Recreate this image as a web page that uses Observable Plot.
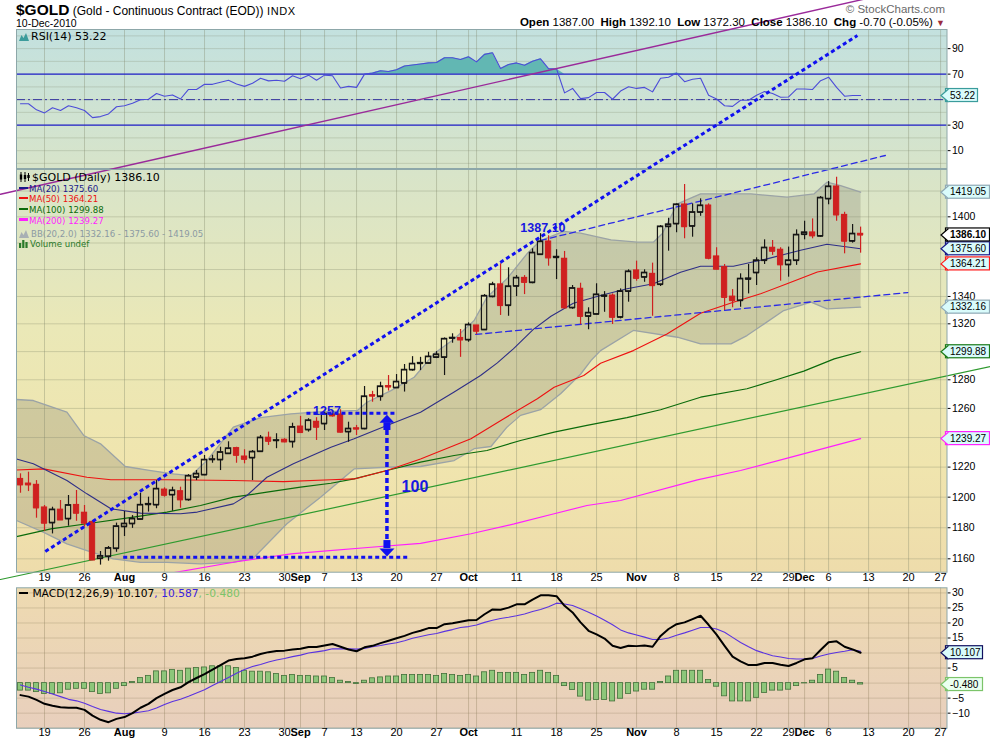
<!DOCTYPE html>
<html><head><meta charset="utf-8">
<script src="https://cdn.jsdelivr.net/npm/d3@7"></script>
<script src="https://cdn.jsdelivr.net/npm/@observablehq/plot@0.6"></script>
<style>
body{margin:0;background:#fff;}
#wrap{position:relative;width:990px;height:744px;overflow:hidden;background:#fff;font-family:"Liberation Sans",Arial,sans-serif;}
#wrap svg.plotsvg{position:absolute;left:0;top:0;}
.t{position:absolute;white-space:nowrap;line-height:1;z-index:5;}
.lg{font-family:"DejaVu Sans",Verdana,sans-serif;}
</style></head><body><div id="wrap"></div>
<script>
// ---------- DATA ----------
// trading-day index 0 = 14-Jul-2010 ... 105 = 10-Dec-2010
const open = [1212.1,1209.0,1208.2,1193.2,1183.2,1191.8,1185.8,1194.9,1189.8,1183.8,
1160.2,1161.5,1166.6,1180.7,1182.6,1185.5,1195.1,1194.9,1205.0,1201.5,
1203.9,1198.3,1213.2,1214.8,1225.0,1224.9,1229.1,1232.8,1227.1,1226.2,
1230.5,1239.9,1237.9,1238.5,1237.1,1247.5,1245.3,1250.8,1249.4,1255.8,
1255.8,1243.9,1246.3,1246.0,1269.2,1268.3,1275.6,1274.4,1277.6,1287.0,
1291.5,1291.7,1295.9,1295.9,1309.6,1309.8,1308.4,1318.8,1315.7,1339.9,
1348.9,1333.4,1347.6,1353.8,1350.3,1371.3,1381.1,1369.0,1368.1,1331.7,
1345.7,1325.5,1327.0,1340.2,1340.7,1324.8,1343.8,1359.3,1354.3,1356.8,
1348.9,1392.5,1394.6,1409.5,1392.8,1403.5,1408.7,1369.8,1361.8,1339.9,
1337.0,1352.8,1357.6,1366.8,1376.4,1374.9,1363.6,1366.8,1386.5,1388.0,
1385.2,1413.9,1423.5,1401.5,1381.4,1387.0];
const high = [1215.5,1216.6,1211.0,1194.5,1193.4,1197.8,1201.1,1204.4,1194.5,1184.7,
1164.7,1167.9,1183.0,1190.6,1187.9,1202.6,1200.0,1211.0,1206.2,1206.6,
1206.6,1215.0,1217.7,1227.8,1228.0,1233.4,1237.1,1233.4,1231.7,1231.2,
1241.4,1243.7,1242.6,1239.2,1249.8,1254.5,1252.9,1253.6,1257.4,1258.6,
1259.1,1250.5,1248.3,1275.3,1271.9,1278.3,1283.0,1283.7,1290.8,1296.4,
1295.9,1299.5,1300.0,1309.8,1312.8,1315.9,1320.7,1318.8,1341.4,1350.5,
1364.3,1361.3,1355.5,1355.5,1375.6,1387.1,1385.5,1374.9,1373.6,1348.1,
1349.8,1331.7,1349.4,1343.6,1341.9,1345.6,1359.8,1366.3,1359.8,1364.8,
1393.3,1398.9,1410.0,1425.1,1410.0,1413.9,1410.0,1376.4,1363.8,1345.1,
1356.8,1363.8,1368.8,1382.4,1381.9,1376.4,1376.9,1390.0,1396.6,1398.4,
1415.7,1427.4,1430.8,1403.5,1394.1,1392.1];
const low = [1202.6,1203.7,1186.2,1177.7,1176.0,1184.7,1181.0,1184.2,1180.4,1158.9,
1156.0,1158.5,1164.2,1174.3,1179.6,1185.1,1190.2,1192.4,1200.0,1190.8,
1192.7,1197.3,1211.0,1214.3,1222.6,1217.7,1228.5,1222.6,1222.2,1211.0,
1230.0,1234.6,1232.4,1236.4,1232.8,1243.0,1243.7,1238.0,1244.8,1254.0,
1243.0,1236.8,1241.4,1245.3,1264.3,1265.0,1272.1,1273.9,1271.4,1286.1,
1286.5,1291.3,1295.0,1283.0,1306.0,1295.9,1306.7,1312.1,1315.2,1339.0,
1326.1,1325.5,1339.9,1341.4,1349.4,1370.6,1362.5,1352.5,1330.9,1330.6,
1319.3,1315.7,1326.6,1328.4,1319.5,1323.6,1335.8,1351.3,1350.5,1325.5,
1347.4,1373.8,1387.8,1383.2,1384.4,1400.4,1367.3,1359.8,1329.7,1331.7,
1332.1,1341.9,1348.1,1363.8,1370.6,1351.3,1354.3,1363.1,1382.4,1383.2,
1384.4,1409.3,1396.6,1371.8,1379.9,1372.3];
const close = [1208.2,1208.2,1193.0,1183.0,1191.8,1185.1,1194.7,1189.5,1183.0,1159.3,
1161.7,1166.8,1180.9,1182.6,1185.8,1194.9,1195.5,1205.5,1201.3,1204.4,
1198.3,1214.1,1215.5,1224.9,1225.2,1230.0,1232.6,1228.0,1225.3,1230.3,
1239.9,1237.5,1238.1,1237.1,1247.1,1243.5,1251.7,1247.1,1256.3,1254.9,
1243.7,1246.0,1245.8,1268.3,1268.6,1275.3,1275.0,1278.6,1287.0,1291.3,
1291.9,1296.4,1297.9,1309.1,1309.9,1308.4,1319.3,1314.7,1340.4,1348.9,
1333.4,1347.4,1353.8,1350.5,1372.6,1381.1,1368.8,1369.5,1331.7,1346.1,
1325.5,1328.0,1341.4,1340.6,1324.8,1343.8,1358.5,1353.5,1357.6,1348.1,
1392.5,1394.1,1409.5,1392.5,1403.5,1408.7,1368.5,1360.3,1339.4,1337.0,
1353.1,1353.3,1366.8,1376.4,1373.8,1363.6,1366.8,1386.2,1388.0,1385.5,
1414.7,1423.5,1401.5,1381.4,1387.0,1386.1];

const rsi = [46.8,46.8,42,39.6,43.6,41.5,45.2,43.6,41.5,35.9,
36.7,38.8,44.4,45.2,47.1,50,50.3,54.8,52.7,53.7,
50.5,58,58,62,62,63.6,65.2,62.3,60.4,62.8,
66.8,64.7,65.2,64.4,68.7,66.3,69.2,65.2,69.2,68.7,
59.1,60.4,59.6,70,70.8,72.7,72.1,73.5,76.4,77.2,
78,78.8,79.1,82.8,82.8,81.5,83.6,79.6,85.5,86.8,
74.5,77.5,78.8,76.9,80.1,82,74.3,74,55.3,58.8,
50.8,51.6,55.6,55.6,50.3,56.7,60.1,58.8,59.6,56.1,
66.8,67.6,70.8,64.1,66,66.8,53.5,50.5,45.2,44.7,
49.5,49.5,53.5,56.4,54.8,51.9,52.1,58.3,58.3,58,
64.9,67.6,59.6,52.7,53.2,53.22];

const macd = [-4.0,-4.5,-5.6,-6.9,-7.5,-8.0,-8.2,-8.2,-8.9,-10.8,
-12.2,-13.0,-11.9,-11.3,-10.0,-8.2,-6.9,-5.0,-3.6,-2.3,
-1.4,0.3,1.7,3.0,4.5,6.0,7.5,8.0,8.3,8.8,
9.7,10.3,10.7,10.8,11.2,11.4,12.0,12.0,12.5,13.0,
12.1,11.2,10.6,11.9,12.4,13.3,14.1,14.9,15.7,16.7,
17.4,18.3,18.3,19.6,19.9,20.4,20.9,21.0,22.9,24.5,
24.4,25.1,26.2,26.2,27.8,29.2,29.2,28.9,25.7,23.5,
20.2,17.4,16.2,14.8,12.4,11.7,12.4,12.3,12.5,12.1,
15.7,18.0,19.6,20.2,21.3,22.4,19.4,16.1,12.4,8.8,
7.2,6.0,6.0,6.7,6.7,6.1,5.7,6.7,7.9,8.3,
11.0,13.6,13.9,12.1,11.2,10.107];
const signal = [-0.6,-1.4,-2.0,-2.8,-3.6,-4.5,-5.4,-5.9,-6.7,-7.8,
-8.8,-9.4,-10.0,-10.2,-10.0,-9.6,-9.2,-8.3,-7.1,-6.1,
-5.4,-4.4,-3.3,-2.2,-0.8,0.5,1.9,3.3,4.5,5.5,
6.2,7.0,7.7,8.2,8.8,9.3,10.0,10.4,10.8,11.4,
11.4,11.4,11.3,11.5,12.1,12.5,13.0,13.4,14.1,14.9,
15.5,16.1,16.5,17.2,17.8,18.5,18.8,19.3,20.2,20.9,
21.5,21.9,22.4,23.0,23.8,24.5,25.4,26.6,26.3,25.8,
24.7,23.6,22.3,20.9,19.4,17.7,16.7,16.0,15.3,14.5,
14.5,15.0,15.9,16.7,17.6,18.5,18.5,18.0,16.9,15.2,
13.5,12.1,10.8,9.9,9.1,8.7,8.2,8.0,8.0,8.2,
9.0,9.7,10.2,10.6,11.1,10.587];
const hist = [-2.5,-2.5,-3.0,-3.6,-3.6,-3.4,-2.2,-1.9,-1.9,-3.0,
-3.6,-3.4,-1.9,-1.0,0.4,1.7,2.4,3.9,3.9,4.4,
4.1,4.8,5.0,5.2,5.6,5.6,5.6,5.0,4.1,3.8,
3.8,3.6,3.0,2.4,2.7,2.4,2.4,2.2,2.2,1.7,
0.8,0.4,-0.3,0.8,1.6,1.9,2.2,2.2,2.7,2.7,
2.7,2.7,2.4,3.0,2.7,2.4,2.7,2.2,3.6,4.1,
3.4,3.4,3.4,2.7,3.4,4.1,3.4,2.4,-1.0,-2.3,
-4.5,-5.8,-5.6,-5.6,-6.1,-5.2,-3.6,-2.8,-2.2,-2.2,
0.4,2.2,4.1,4.1,4.1,4.1,1.0,-1.2,-4.4,-6.1,
-6.1,-6.1,-4.9,-3.3,-2.5,-2.5,-2.2,-1.0,-0.1,0.8,
2.7,4.5,3.8,1.7,0.8,-0.48];

// overlay lines: [trading-day index, price]
const ma20 = [[-0.5,1225.5],[1.6,1222.2],[5.8,1211.0],[8.3,1202.2],[11.3,1192.4],[15,1189.5],[20,1189.1],[22.1,1190.2],[26.6,1195.6],[28.3,1201.1],[30.8,1213.2],[34.1,1222.2],[38.8,1233.4],[41.7,1239.2],[45.8,1248.3],[50,1257.4],[54.2,1271.4],[57.5,1283.0],[59.6,1292.0],[61.6,1302.0],[64.1,1316.0],[66.3,1325.5],[69.1,1335.0],[72.5,1340.7],[75.8,1345.7],[79.1,1349.4],[82.5,1358.0],[85,1362.5],[89.1,1362.5],[93.3,1368.0],[97.5,1374.5],[100.8,1379.0],[105,1375.6]];
const ma50 = [[-0.5,1218.1],[2.9,1218.8],[8.3,1213.2],[11.3,1211.5],[18.3,1211.5],[26.6,1211.0],[32.9,1210.3],[38.8,1211.5],[41.7,1212.1],[45.8,1217.7],[50,1225.5],[54.2,1234.6],[56.3,1239.2],[60.4,1252.9],[64.6,1266.7],[66.7,1274.8],[70.4,1283.0],[72.5,1291.7],[76.6,1300.7],[80.8,1312.7],[85,1327.7],[89.1,1335.8],[92.5,1342.0],[95.8,1349.4],[99.6,1358.1],[105,1364.21]];
const ma100 = [[-0.5,1174.3],[3.8,1179.3],[8.3,1182.6],[14.1,1186.9],[18.3,1190.2],[22.5,1194.5],[26.6,1200.0],[30.8,1203.3],[35,1206.6],[38.8,1209.2],[41.7,1212.1],[45.8,1217.7],[50,1223.3],[54.2,1227.8],[58.3,1231.2],[62.5,1238.0],[66.7,1243.7],[70.8,1248.3],[75.8,1253.6],[80,1259.1],[85,1267.8],[90.8,1273.7],[94.2,1279.5],[97.9,1286.1],[101.7,1294.8],[105,1299.88]];
const ma200 = [[18.8,1150.9],[26.6,1157.8],[33.8,1163.2],[37.5,1164.8],[43.8,1167.4],[50,1169.9],[56.3,1176.1],[61.7,1182.5],[66.7,1189.1],[70.8,1194.5],[75,1197.8],[84.6,1211.5],[90,1217.7],[97.5,1228.4],[105,1239.27]];
const bbUpper = [[-0.5,1266.2],[1.6,1265.5],[5.8,1257.4],[7.9,1241.4],[10,1235.7],[13.1,1220.4],[16.3,1217.7],[19.1,1215.5],[21.3,1214.3],[23.3,1224.4],[26.6,1247.1],[30,1253.6],[33.8,1256.3],[36.7,1257.4],[42.1,1258.6],[43.3,1264.3],[46.3,1272.4],[49.2,1281.8],[51.7,1298.6],[54.2,1309.1],[56.7,1322.4],[58.3,1339.5],[60.8,1353.1],[63.3,1371.8],[65,1381.9],[67.9,1388.8],[70,1387.5],[73.8,1382.4],[77.1,1380.6],[79.1,1380.6],[80.2,1387.0],[82.1,1410.0],[85,1417.8],[91.3,1417.8],[95.8,1415.2],[99.2,1417.8],[100.8,1426.9],[102.5,1424.3],[105,1419.05]];
const bbLower = [[-0.5,1184.7],[2.9,1177.0],[5.8,1169.6],[8.3,1165.3],[11.6,1160.0],[15,1157.8],[18.3,1157.8],[22.5,1156.8],[26.6,1157.8],[29.2,1161.0],[33.3,1182.6],[37.5,1200.0],[41.7,1218.8],[45.8,1219.9],[50,1220.4],[54.2,1224.4],[56.7,1232.4],[58.8,1233.9],[60.8,1247.1],[62.5,1255.2],[65,1259.1],[67.5,1270.2],[70,1283.9],[71.3,1293.6],[72.5,1300.7],[76.6,1315.2],[82.1,1310.3],[85,1305.5],[88.8,1305.5],[90.8,1311.5],[95.4,1329.7],[98.8,1335.8],[100.8,1330.9],[105,1332.16]];

// hand-drawn annotations [index, price]
const trendBlue = [[3.1,1164.7],[104.6,1546.7]];
const trendPurple = [[-2.5,1417.5],[121.25,1603.0]];
const trendGreen = [[-2.5,1146.9],[121.25,1289.4]];
const channelUpper = [[65,1381.9],[108.1,1448.0]];
const channelLower = [[56.9,1312.3],[110.9,1342.9]];
const supportLine = {from: 12.9, to: 48.75, price: 1161.0};
const level1257 = {from: 35.8, to: 46.9, price: 1256.7};
const moveArrow = {i: 45.8, topTip: 1255.6, topBase: 1250.1, topStub: 1244.8, botStub: 1171.7, botBase: 1166.6, botTip: 1161.5};
const notes = [{i: 38.3, v: 1258.3, t: "1257", size: 12.5}, {i: 65.3, v: 1391.2, t: "1387.10", size: 12.5}, {i: 49.3, v: 1207.0, t: "100", size: 16}];

// axis
const tickIdx = [3,8,13,18,23,28,33,35,38,42,47,52,56,62,67,72,77,82,87,92,96,98,101,106,111,115];
const tickLbl = ["19","26","Aug","9","16","23","30","Sep","7","13","20","27","Oct","11","18","25","Nov","8","15","22","29","Dec","6","13","20","27"];
const gridIdx = tickIdx.concat([57]);
const priceGrid = d3.range(1160, 1421, 20);
const priceLabels = [1160, 1180, 1200, 1220, 1260, 1280, 1320, 1340, 1400];   // others sit under the value tags
const rsiLabels = [10, 30, 70, 90];
const macdLabels = [-10, -5, 5, 15, 20, 25, 30];

// last-value tags
const mainTags = [
  {v: 1419.05, label: "1419.05", bg: "#d9fbfb", border: "#8fa9b5"},
  {v: 1375.60, label: "1375.60", bg: "#d9fbfb", border: "#1a1a8a"},
  {v: 1364.21, label: "1364.21", bg: "#d9fbfb", border: "#ff1a1a"},
  {v: 1332.16, label: "1332.16", bg: "#d9fbfb", border: "#8fa9b5"},
  {v: 1299.88, label: "1299.88", bg: "#d9fbfb", border: "#1a7a1a"},
  {v: 1239.27, label: "1239.27", bg: "#d9fbfb", border: "#ff22ff"}];
const closeTag = [{v: 1386.10, label: "1386.10", bg: "#ffffff", border: "#000000"}];
const rsiTag = [{v: 53.22, label: "53.22", bg: "#d9fbfb", border: "#3a9c9c"}];
const macdTags = [{v: 10.107, label: "10.107", bg: "#d9fbfb", border: "#101060"}, {v: -0.48, label: "-0.480", bg: "#eafff0", border: "#7cc46a"}];

// ---------- BUILD ----------
const W = 990, H = 744, XMAX = 115.8;
const pts = a => a.map(([i, v]) => ({i, v}));
const candles = d3.range(open.length).map(i => ({i, o: open[i], h: high[i], l: low[i], c: close[i]}));
const upC = candles.filter(d => d.c >= d.o), dnC = candles.filter(d => d.c < d.o);
const colC = d => d.c < d.o ? "#cf2020" : "#151515";
const rsiData = rsi.map((v, i) => ({i, v}));
const macdData = macd.map((v, i) => ({i, v}));
const sigData = signal.map((v, i) => ({i, v}));
const histData = hist.map((v, i) => ({i, v}));
const dates = tickIdx.map((i, k) => ({i, label: tickLbl[k], month: isNaN(+tickLbl[k])}));
const bbPoly = pts(bbUpper).concat(pts(bbLower).reverse());

const xs = {type: "linear", domain: [-0.5, XMAX], axis: null};
const style = {fontFamily: '"Liberation Sans", Arial, sans-serif', fontSize: "10.5px", background: "transparent", overflow: "visible"};
const gridCol = "#7d8466";

const notch = {draw(ctx) { ctx.moveTo(2.5, -6.5); ctx.lineTo(-5, 0); ctx.lineTo(2.5, 6.5); }};
const upHead = {draw(ctx) { ctx.moveTo(0, 0); ctx.lineTo(7.5, 8); ctx.lineTo(-7.5, 8); ctx.closePath(); }};
const downHead = {draw(ctx) { ctx.moveTo(0, 0); ctx.lineTo(7.5, -8); ctx.lineTo(-7.5, -8); ctx.closePath(); }};

function tagMarks(tags, w, bold) {
  return [
    Plot.rect(tags, {x1: () => XMAX, x2: () => XMAX, y1: "v", y2: "v", insetLeft: -1, insetRight: -w, insetTop: -6.5, insetBottom: -6.5, fill: "bg", stroke: "border", strokeWidth: 1.2}),
    Plot.dot(tags, {x: () => XMAX, y: "v", symbol: notch, fill: "bg", stroke: "border", strokeWidth: 1.2, dx: -1}),
    Plot.text(tags, {x: () => XMAX, y: "v", text: "label", dx: 3, textAnchor: "start", fill: "#000", fontSize: 10, fontWeight: bold ? "bold" : "normal"})
  ];
}
function dateMarks(dy) {
  return [
    Plot.text(dates.filter(d => !d.month), {x: "i", text: "label", frameAnchor: "bottom", dy, fontSize: 11, fill: "#000"}),
    Plot.text(dates.filter(d => d.month), {x: "i", text: "label", frameAnchor: "bottom", dy, fontSize: 11, fontWeight: "bold", fill: "#000"})
  ];
}
function addGradient(svg, id, y1, y2, stops) {
  const defs = d3.select(svg).insert("defs", ":first-child");
  const g = defs.append("linearGradient").attr("id", id).attr("gradientUnits", "userSpaceOnUse")
    .attr("x1", 0).attr("x2", 0).attr("y1", y1).attr("y2", y2);
  stops.forEach(([o, c]) => g.append("stop").attr("offset", o).attr("stop-color", c));
}
const topStops = [[0, "#c3e1df"], [0.25, "#d7e4ca"], [0.55, "#eae8b7"], [0.8, "#f0e5ae"], [1, "#eedcab"]];

// RSI panel
const rsiPlot = Plot.plot({
  width: W, height: H, marginLeft: 16, marginRight: 43.5, marginTop: 29, marginBottom: H - 168,
  style, x: xs, y: {domain: [-4, 105]}, color: {type: "identity"},
  marks: [
    Plot.frame({fill: "url(#gRsi)"}),
    Plot.ruleY(d3.range(0, 101, 10), {stroke: gridCol, strokeOpacity: 0.25}),
    Plot.ruleX(gridIdx, {stroke: gridCol, strokeOpacity: 0.35}),
    Plot.areaY(rsiData, {x: "i", y1: () => 70, y2: d => Math.max(70, d.v), fill: "#62b7b3"}),
    Plot.ruleY([70, 30], {stroke: "#2222cc", strokeWidth: 1.1}),
    Plot.ruleY([50], {stroke: "#33339f", strokeDasharray: "9,3,2,3"}),
    Plot.line(rsiData, {x: "i", y: "v", stroke: "#4c4cd8", strokeWidth: 1.1}),
    Plot.axisY(rsiLabels, {anchor: "right", tickSize: 3, tickPadding: 2, label: null, fontSize: 10.5}),
    Plot.frame({stroke: "#8da7a9"}),
    ...tagMarks(rsiTag, 31, false)
  ]
});
addGradient(rsiPlot, "gRsi", 29, 572, topStops);

// MACD panel
const macdPlot = Plot.plot({
  width: W, height: H, marginLeft: 16, marginRight: 43.5, marginTop: 587.3, marginBottom: H - 727.7,
  style, x: xs, y: {domain: [-15.0, 31.7]}, color: {type: "identity"},
  marks: [
    Plot.frame({fill: "url(#gMacd)"}),
    Plot.ruleY(d3.range(-15, 31, 5), {stroke: "#8a7a5a", strokeOpacity: 0.28}),
    Plot.ruleX(gridIdx, {stroke: "#8a7a5a", strokeOpacity: 0.35}),
    Plot.rect(histData, {x1: d => d.i - 0.32, x2: d => d.i + 0.32, y1: () => 0, y2: "v", fill: "#8dc67a", stroke: "#42703a", strokeWidth: 0.8}),
    Plot.line(sigData, {x: "i", y: "v", stroke: "#5a33e0", strokeWidth: 1.1}),
    Plot.line(macdData, {x: "i", y: "v", stroke: "#000", strokeWidth: 2}),
    Plot.axisY(macdLabels, {anchor: "right", tickSize: 3, tickPadding: 2, label: null, fontSize: 10.5}),
    Plot.frame({stroke: "#8da7a9"}),
    ...tagMarks(macdTags, 36, false),
    ...dateMarks(7.6)
  ]
});
addGradient(macdPlot, "gMacd", 587, 728, [[0, "#eedab0"], [1, "#e8cfbd"]]);

// Main price panel
const blue = "#1010f0";
const mainPlot = Plot.plot({
  width: W, height: H, marginLeft: 16, marginRight: 43.5, marginTop: 169, marginBottom: H - 571.7,
  style, x: xs, y: {type: "log", domain: [1151.5, 1436.9]}, color: {type: "identity"},
  marks: [
    Plot.frame({fill: "url(#gMain)"}),
    Plot.ruleY(priceGrid, {stroke: gridCol, strokeOpacity: 0.3}),
    Plot.ruleX(gridIdx, {stroke: gridCol, strokeOpacity: 0.35}),
    Plot.line(bbPoly, {x: "i", y: "v", fill: "#77776a", fillOpacity: 0.26, stroke: "none", clip: true}),
    Plot.line(pts(bbUpper), {x: "i", y: "v", stroke: "#9ba3a6", strokeWidth: 1.3, clip: true}),
    Plot.line(pts(bbLower), {x: "i", y: "v", stroke: "#9ba3a6", strokeWidth: 1.3, clip: true}),
    Plot.line(pts(ma200), {x: "i", y: "v", stroke: "#ff1eff", strokeWidth: 1.2, clip: true}),
    Plot.line(pts(ma100), {x: "i", y: "v", stroke: "#0b6b0b", strokeWidth: 1.2, clip: true}),
    Plot.line(pts(ma50), {x: "i", y: "v", stroke: "#ee1111", strokeWidth: 1.1, clip: true}),
    Plot.line(pts(ma20), {x: "i", y: "v", stroke: "#2e2e86", strokeWidth: 1.1, clip: true}),
    Plot.line(pts(trendGreen), {x: "i", y: "v", stroke: "#2f9a2f", strokeWidth: 1.2}),
    Plot.line(pts(channelUpper), {x: "i", y: "v", stroke: "#2a2ae6", strokeWidth: 1.3, strokeDasharray: "6,4"}),
    Plot.line(pts(channelLower), {x: "i", y: "v", stroke: "#2a2ae6", strokeWidth: 1.3, strokeDasharray: "6,4"}),
    // candles
    Plot.ruleX(candles, {x: "i", y1: "h", y2: d => Math.max(d.o, d.c), stroke: colC, strokeWidth: 1.2}),
    Plot.ruleX(candles, {x: "i", y1: "l", y2: d => Math.min(d.o, d.c), stroke: colC, strokeWidth: 1.2}),
    Plot.rect(upC, {x1: d => d.i - 0.33, x2: d => d.i + 0.33, y1: "o", y2: "c", fill: "none", stroke: "#151515", strokeWidth: 1.2}),
    Plot.rect(dnC, {x1: d => d.i - 0.33, x2: d => d.i + 0.33, y1: "o", y2: "c", fill: "#cf2020", stroke: "#cf2020", strokeWidth: 1}),
    Plot.ruleY(candles, {y: "o", x1: d => d.i - 0.36, x2: d => d.i + 0.36, stroke: colC, strokeWidth: 1.3}),
    Plot.ruleY(candles, {y: "c", x1: d => d.i - 0.36, x2: d => d.i + 0.36, stroke: colC, strokeWidth: 1.3}),
    // annotations
    Plot.ruleY([supportLine, level1257], {y: "price", x1: "from", x2: "to", stroke: blue, strokeWidth: 3, strokeDasharray: "4,3"}),
    Plot.ruleX([moveArrow], {x: "i", y1: "topStub", y2: "botStub", stroke: blue, strokeWidth: 3.5, strokeDasharray: "5,3"}),
    Plot.ruleX([moveArrow], {x: "i", y1: "topBase", y2: "topStub", stroke: blue, strokeWidth: 7}),
    Plot.ruleX([moveArrow], {x: "i", y1: "botBase", y2: "botStub", stroke: blue, strokeWidth: 7}),
    Plot.dot([moveArrow], {x: "i", y: "topTip", symbol: upHead, fill: blue, stroke: "none"}),
    Plot.dot([moveArrow], {x: "i", y: "botTip", symbol: downHead, fill: blue, stroke: "none"}),
    ...notes.map(n => Plot.text([n], {x: "i", y: "v", text: "t", fill: "#1818e0", fontWeight: "bold", fontSize: n.size})),
    Plot.line(pts(trendBlue), {x: "i", y: "v", stroke: blue, strokeWidth: 3, strokeDasharray: "4,3", strokeLinecap: "butt"}),
    Plot.line(pts(trendPurple), {x: "i", y: "v", stroke: "#9a2a9a", strokeWidth: 1.4}),
    Plot.axisY(priceLabels, {anchor: "right", tickSize: 3, tickPadding: 2, label: null, fontSize: 10.5, tickFormat: d => String(d)}),
    Plot.frame({stroke: "#8da7a9"}),
    ...tagMarks(mainTags, 43, false),
    ...tagMarks(closeTag, 43, true),
    ...dateMarks(8.6)
  ]
});
addGradient(mainPlot, "gMain", 29, 572, topStops);

const wrap = document.getElementById("wrap");
[rsiPlot, macdPlot, mainPlot].forEach(s => {
  s.classList.add("plotsvg");
  s.style.background = "transparent";
  s.style.maxWidth = "none";
  wrap.appendChild(s);
});

// ---------- TEXT (header & legends) ----------
const dash = c => `<span style="display:inline-block;width:9px;height:2.5px;background:${c};vertical-align:3px;margin-right:1px"></span>`;
const mount = c => `<svg width="10" height="9" style="vertical-align:-1px;margin-right:2px"><path d="M0,9L2.5,3L4.5,6L7,1L10,9Z" fill="${c}"/></svg>`;
const bars = c => `<svg width="10" height="9" style="vertical-align:-1px;margin-right:1px"><rect x="0" y="4" width="2.2" height="5" fill="${c}"/><rect x="3.2" y="1" width="2.2" height="8" fill="${c}"/><rect x="6.4" y="3" width="2.2" height="6" fill="${c}"/></svg>`;
const candleIcon = `<svg width="11" height="10" style="vertical-align:-1px;margin-right:2px"><path d="M2,0V10M6,0V10M9.5,1V9" stroke="#000" stroke-width="1"/><rect x="0.8" y="2.5" width="2.4" height="5" fill="#000"/><rect x="4.8" y="3" width="2.4" height="4" fill="#000"/><rect x="8.3" y="3" width="2.4" height="3" fill="#000"/></svg>`;

const texts = [
  `<div class="t" style="left:16px;top:2px;"><span style="font-weight:bold;font-size:15.5px;">$GOLD</span><span style="font-size:12px;"> (Gold - Continuous Contract (EOD))</span><span style="font-size:11px;letter-spacing:0.6px;"> INDX</span></div>`,
  `<div class="t" style="left:16px;top:18px;font-size:10.5px;">10-Dec-2010</div>`,
  `<div class="t" style="right:45px;top:4px;font-size:11.5px;color:#6a6a6a;">© StockCharts.com</div>`,
  `<div class="t" style="right:45px;top:17px;font-size:11.5px;"><b>Open</b> 1387.00 &nbsp;<b>High</b> 1392.10 &nbsp;<b>Low</b> 1372.30 &nbsp;<b>Close</b> 1386.10 &nbsp;<b>Chg</b> -0.70 (-0.05%) <span style="color:#9b2d3d;font-size:9px;">▼</span></div>`,
  `<div class="t lg" style="left:19px;top:30.5px;font-size:11px;">${mount("#3c9c9c")}RSI(14) 53.22</div>`,
  `<div class="t lg" style="left:19px;top:172.4px;font-size:11px;">${candleIcon}$GOLD (Daily) 1386.10</div>`,
  `<div class="t lg" style="left:19px;top:185px;font-size:8.6px;color:#1a1a8a;">${dash("#1a1a8a")}MA(20) 1375.60</div>`,
  `<div class="t lg" style="left:19px;top:195.4px;font-size:8.6px;color:#ee1111;">${dash("#ee1111")}MA(50) 1364.21</div>`,
  `<div class="t lg" style="left:19px;top:206px;font-size:8.6px;color:#0b6b0b;">${dash("#0b6b0b")}MA(100) 1299.88</div>`,
  `<div class="t lg" style="left:19px;top:216.7px;font-size:8.6px;color:#ff1eff;">${dash("#ff1eff")}MA(200) 1239.27</div>`,
  `<div class="t lg" style="left:19px;top:228.7px;font-size:8.6px;color:#8c9aa2;">${mount("#a8b0b4")}BB(20,2.0) 1332.16 - 1375.60 - 1419.05</div>`,
  `<div class="t lg" style="left:19px;top:239px;font-size:8.6px;color:#2a7a2a;">${bars("#2a7a2a")}Volume undef</div>`,
  `<div class="t lg" style="left:19px;top:589px;font-size:10.7px;">${dash("#000")} MACD(12,26,9) 10.107<span style="color:#3a22dd">, 10.587</span><span style="color:#7cc46a">, -0.480</span></div>`
];
wrap.insertAdjacentHTML("beforeend", texts.join(""));
</script></body></html>
